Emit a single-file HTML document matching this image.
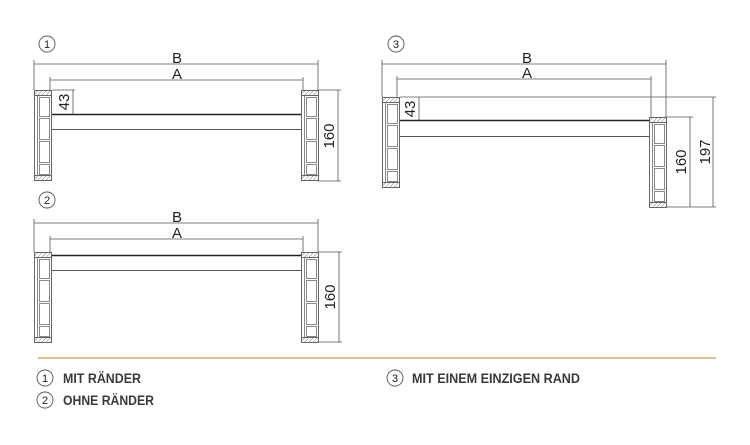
<!DOCTYPE html>
<html><head><meta charset="utf-8"><style>
html,body{margin:0;padding:0;background:#fff;width:750px;height:445px;overflow:hidden}
svg{display:block}
text{font-family:"Liberation Sans",sans-serif;fill:#222}
.lg{font-family:"Liberation Sans",sans-serif;font-weight:bold;font-size:13.5px;fill:#3a3a3a}
</style></head><body>
<svg width="750" height="445" viewBox="0 0 750 445" xmlns="http://www.w3.org/2000/svg">
<defs>
<pattern id="h" width="3" height="3" patternUnits="userSpaceOnUse" patternTransform="rotate(45)"><line x1="0" y1="0" x2="0" y2="3" stroke="#777" stroke-width="1"/></pattern>
<g id="post">
<rect x="0.5" y="0.5" width="17" height="90" fill="#fff" stroke="#666" stroke-width="1"/>
<rect x="0.5" y="0.5" width="17" height="5" fill="url(#h)" stroke="#666"/>
<rect x="0.5" y="85.5" width="17" height="5" fill="url(#h)" stroke="#666"/>
<line x1="3.5" y1="6" x2="3.5" y2="85" stroke="#888"/>
<rect x="5.5" y="7.5" width="10" height="19" fill="none" stroke="#888"/>
<rect x="5.5" y="28.5" width="10" height="21" fill="none" stroke="#888"/>
<rect x="5.5" y="51.5" width="10" height="21" fill="none" stroke="#888"/>
<rect x="5.5" y="74.5" width="10" height="10" fill="none" stroke="#888"/>
</g>
</defs>
<g fill="none" stroke="#555" stroke-width="0.8">
<line x1="34" y1="64" x2="318" y2="64"/><line x1="34" y1="60" x2="34" y2="90"/><line x1="318" y1="60" x2="318" y2="90"/>
<line x1="50" y1="80" x2="303" y2="80"/><line x1="50" y1="77" x2="50" y2="90"/><line x1="303" y1="77" x2="303" y2="90"/>
<line x1="73" y1="90" x2="73" y2="114"/><line x1="52" y1="90" x2="75" y2="90"/>
<line x1="318" y1="90" x2="341" y2="90"/><line x1="318" y1="181" x2="341" y2="181"/><line x1="338" y1="90" x2="338" y2="181"/>
<line x1="34" y1="223" x2="318" y2="223"/><line x1="34" y1="219" x2="34" y2="252"/><line x1="318" y1="219" x2="318" y2="252"/>
<line x1="50" y1="239" x2="303" y2="239"/><line x1="50" y1="236" x2="50" y2="252"/><line x1="303" y1="236" x2="303" y2="252"/>
<line x1="318" y1="252" x2="342" y2="252"/><line x1="318" y1="342" x2="342" y2="342"/><line x1="339" y1="252" x2="339" y2="342"/>
<line x1="382" y1="64" x2="666" y2="64"/><line x1="382" y1="60" x2="382" y2="97"/><line x1="666" y1="60" x2="666" y2="117"/>
<line x1="397" y1="79" x2="651" y2="79"/><line x1="397" y1="76" x2="397" y2="97"/><line x1="651" y1="76" x2="651" y2="117"/>
<line x1="400" y1="97" x2="716" y2="97"/><line x1="419" y1="97" x2="419" y2="120"/>
<line x1="666" y1="117" x2="693" y2="117"/><line x1="666" y1="207" x2="716" y2="207"/>
<line x1="690" y1="117" x2="690" y2="207"/><line x1="713" y1="97" x2="713" y2="207"/>
</g>
<rect x="48.5" y="114.5" width="257" height="15" fill="#fff" stroke="#555" stroke-width="1"/>
<line x1="48" y1="114.5" x2="306" y2="114.5" stroke="#222" stroke-width="1.5"/>
<rect x="48.5" y="255.5" width="257" height="15" fill="#fff" stroke="#555" stroke-width="1"/>
<line x1="48" y1="255.5" x2="306" y2="255.5" stroke="#222" stroke-width="1.5"/>
<rect x="396.5" y="120.5" width="258" height="16" fill="#fff" stroke="#555" stroke-width="1"/>
<line x1="396" y1="120.5" x2="655" y2="120.5" stroke="#222" stroke-width="1.5"/>
<use href="#post" x="34" y="90"/><use href="#post" x="301" y="90"/>
<use href="#post" x="34" y="252"/><use href="#post" x="301" y="252"/>
<use href="#post" x="382" y="97"/><use href="#post" x="649" y="117"/>
<g font-size="15" text-anchor="middle">
<text x="177" y="63">B</text><text x="177" y="79">A</text>
<text x="177" y="222">B</text><text x="177" y="238">A</text>
<text x="527" y="63">B</text><text x="527" y="78">A</text>
</g>
<g font-size="15" text-anchor="middle">
<text transform="translate(69,102) rotate(-90)">43</text>
<text transform="translate(334,136) rotate(-90)">160</text>
<text transform="translate(335,297) rotate(-90)">160</text>
<text transform="translate(415,109) rotate(-90)">43</text>
<text transform="translate(686,162) rotate(-90)">160</text>
<text transform="translate(710,152) rotate(-90)">197</text>
</g>
<g fill="none" stroke="#555" stroke-width="0.9">
<circle cx="47" cy="44" r="8"/><circle cx="47" cy="200" r="8"/><circle cx="396" cy="44" r="8"/>
<circle cx="45" cy="378" r="8"/><circle cx="45" cy="400" r="8"/><circle cx="395" cy="378" r="8"/>
</g>
<g font-size="11" text-anchor="middle">
<text x="47" y="48">1</text><text x="47" y="204">2</text><text x="396" y="48">3</text>
<text x="45" y="382">1</text><text x="45" y="404">2</text><text x="395" y="382">3</text>
</g>
<line x1="38" y1="358" x2="716" y2="358" stroke="#c99a55" stroke-width="1.2"/>
<text class="lg" x="63" y="383" textLength="78" lengthAdjust="spacingAndGlyphs">MIT RÄNDER</text>
<text class="lg" x="63" y="405" textLength="91" lengthAdjust="spacingAndGlyphs">OHNE RÄNDER</text>
<text class="lg" x="412" y="383" textLength="168" lengthAdjust="spacingAndGlyphs">MIT EINEM EINZIGEN RAND</text>
</svg>
</body></html>
